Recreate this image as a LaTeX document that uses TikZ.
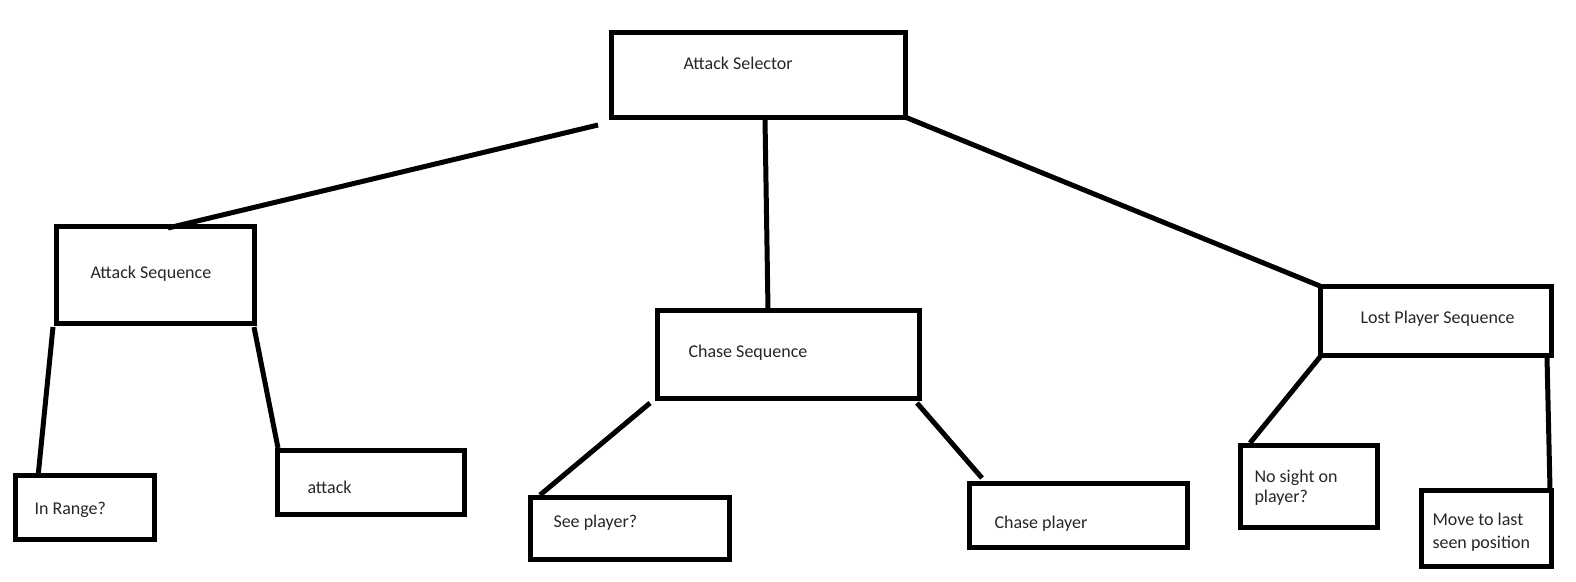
\documentclass[tikz,border=0pt]{standalone}
\usepackage{fontspec}
\setmainfont{Carlito}
\usetikzlibrary{calc}
\begin{document}
\begin{tikzpicture}[x=1pt, y=-1pt, line width=5pt,
  box/.style={draw, rectangle, inner sep=0pt, outer sep=0pt},
  lbl/.style={inner sep=0pt, anchor=base west, text=black!85, font=\fontsize{18}{21}\selectfont}]
\useasboundingbox (0,0) rectangle (1576,581);

\node[box, minimum width=294pt, minimum height=85pt] (sel) at (758,74.5){};
\node[lbl] (selT) at (681,69){Attack Selector};

\node[box, minimum width=198pt, minimum height=97pt] (attseq) at (155,274.5){};
\node[lbl] (attseqT) at (88,278){Attack Sequence};
\node[box, minimum width=262pt, minimum height=88pt] (chaseseq) at (788,354){};
\node[lbl] (chaseseqT) at (686,357){Chase Sequence};
\node[box, minimum width=231pt, minimum height=69pt] (lost) at (1435.5,320.5){};
\node[lbl] (lostT) at (1358,323){Lost Player Sequence};

\node[box, minimum width=139pt, minimum height=64pt] (inrange) at (84.5,507){};
\node[lbl] (inrangeT) at (32,514){In Range?};
\node[box, minimum width=187pt, minimum height=64pt] (attack) at (370.5,482){};
\node[lbl] (attackT) at (305,493){attack};
\node[box, minimum width=199pt, minimum height=62pt] (see) at (629.5,528){};
\node[lbl] (seeT) at (551,527){See player?};
\node[box, minimum width=218pt, minimum height=64pt] (chplayer) at (1078,515){};
\node[lbl] (chplayerT) at (992,528){Chase player};
\node[box, minimum width=137pt, minimum height=82pt] (nosight) at (1308.5,486){};
\node[lbl, align=left, font=\fontsize{18}{20}\selectfont] (nosightT) at (1252,502){No sight on\\player?};
\node[box, minimum width=130pt, minimum height=76pt] (move) at (1486,528){};
\node[lbl, align=left, font=\fontsize{18}{23}\selectfont] (moveT) at (1430,548){Move to last\\seen position};

\draw[]($(sel.south west)+(-13,8)$) -- ($(attseq.north)+(13,2)$);
\draw[]($(sel.south)+(7,2)$) -- ($(chaseseq.north)+(-20,0)$);
\draw[](sel.south east) -- (lost.north west);
\draw[]($(attseq.south west)+(-3,4)$) -- ($(inrange.north west)+(23,2)$);
\draw[]($(attseq.south east)+(0,4)$) -- ($(attack.north west)+(1,-2)$);
\draw[]($(chaseseq.south west)+(-7,5)$) -- ($(see.north west)+(10,-2)$);
\draw[]($(chaseseq.south east)+(-2,5)$) -- ($(chplayer.north west)+(13,-5)$);
\draw[]($(lost.south west)+(0,2)$) -- ($(nosight.north west)+(10,-2)$);
\draw[]($(lost.south east)+(-4,2)$) -- ($(move.north east)+(-1,0)$);

\end{tikzpicture}
\end{document}
